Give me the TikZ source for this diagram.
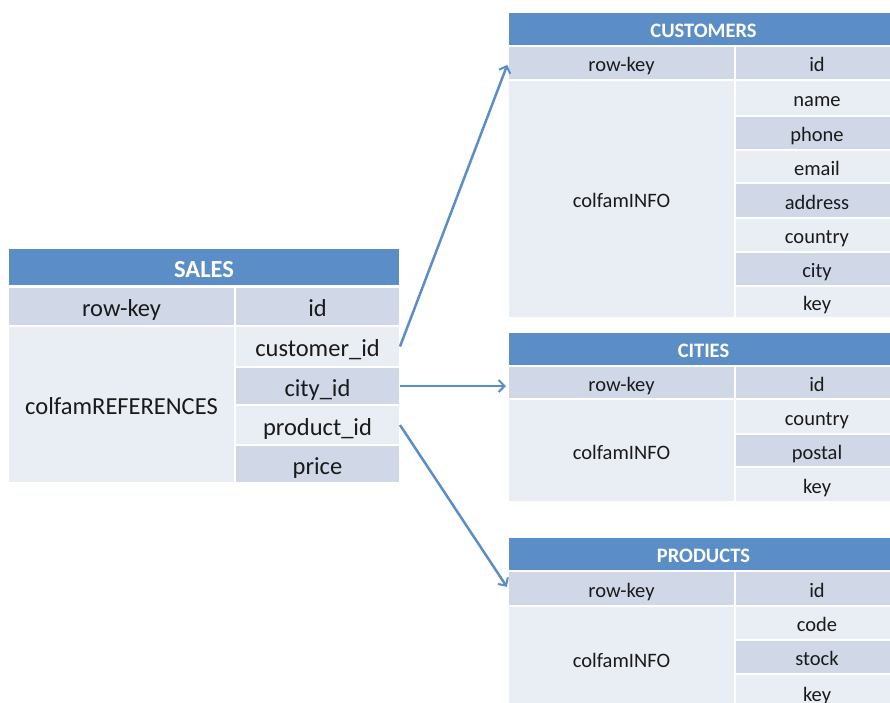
\documentclass[tikz,border=0pt]{standalone}
\usepackage{fontspec}
\setmainfont{Carlito}
\usetikzlibrary{arrows.meta}

\definecolor{hdrblue}{HTML}{5B8EC6}
\definecolor{celldark}{HTML}{D0D8E8}
\definecolor{celllight}{HTML}{E9EDF4}
\definecolor{linkblue}{HTML}{5B8EC6}
\definecolor{ink}{HTML}{1A1A1A}

\tikzset{
  cell/.style={draw=white, line width=2pt, inner sep=0pt, outer sep=0pt,
    anchor=north west, text=ink},
  wh/.style 2 args={minimum width=#1pt, minimum height=#2pt},
  big/.style={font=\fontsize{24.5}{28}\selectfont, text height=22pt, text depth=1.5pt},
  small/.style={font=\fontsize{20.5}{24}\selectfont, text height=18.5pt, text depth=1.2pt},
  hdr/.style={cell, fill=hdrblue, text=white},
  dk/.style={cell, fill=celldark},
  lt/.style={cell, fill=celllight},
  link/.style={draw=linkblue, line width=2.5pt,
    -{Straight Barb[length=6pt,width=12pt,line width=2pt]}, shorten >=2pt},
}

\begin{document}
\begin{tikzpicture}[x=1pt, y=-1pt]
\useasboundingbox (0,0) rectangle (890,702);
\clip (0,0) rectangle (890,702);

% ---------- SALES ----------
\node[hdr, big, wh={392}{38}] (sH) at (8,248) {\bfseries SALES};
\node[dk, big, wh={227}{39}] (sRK) at (8,287) {row-key};
\node[dk, big, wh={165}{39}] (sID) at (235,287) {id};
\node[lt, big, wh={227}{157}] (sCF) at (8,326) {colfamREFERENCES};
\node[lt, big, wh={165}{41}] (sCust) at (235,326) {customer\_id};
\node[dk, big, wh={165}{38}] (sCity) at (235,367) {city\_id};
\node[lt, big, wh={165}{40}] (sProd) at (235,405) {product\_id};
\node[dk, big, wh={165}{38}] (sPrice) at (235,445) {price};

% ---------- CUSTOMERS ----------
\node[hdr, small, wh={391}{34}] (cH) at (508,12) {\bfseries CUSTOMERS};
\node[dk, small, wh={227}{34}] (cRK) at (508,46) {row-key};
\node[dk, small, wh={164}{34}] (cID) at (735,46) {id};
\node[lt, small, wh={227}{238}] (cCF) at (508,80) {colfamINFO};
\node[lt, small, wh={164}{36}] (cName) at (735,80) {name};
\node[dk, small, wh={164}{34}] (cPhone) at (735,116) {phone};
\node[lt, small, wh={164}{33}] (cEmail) at (735,150) {email};
\node[dk, small, wh={164}{35}] (cAddr) at (735,183) {address};
\node[lt, small, wh={164}{34}] (cCountry) at (735,218) {country};
\node[dk, small, wh={164}{34}] (cCity) at (735,252) {city};
\node[lt, small, wh={164}{32}] (cKey) at (735,286) {key};

% ---------- CITIES ----------
\node[hdr, small, wh={391}{34}] (tH) at (508,332) {\bfseries CITIES};
\node[dk, small, wh={227}{33}] (tRK) at (508,366) {row-key};
\node[dk, small, wh={164}{33}] (tID) at (735,366) {id};
\node[lt, small, wh={227}{103}] (tCF) at (508,399) {colfamINFO};
\node[lt, small, wh={164}{35}] (tCountry) at (735,399) {country};
\node[dk, small, wh={164}{33}] (tPostal) at (735,434) {postal};
\node[lt, small, wh={164}{35}] (tKey) at (735,467) {key};

% ---------- PRODUCTS ----------
\node[hdr, small, wh={391}{34}] (pH) at (508,537) {\bfseries PRODUCTS};
\node[dk, small, wh={227}{35}] (pRK) at (508,571) {row-key};
\node[dk, small, wh={164}{35}] (pID) at (735,571) {id};
\node[lt, small, wh={227}{106}] (pCF) at (508,606) {colfamINFO};
\node[lt, small, wh={164}{34}] (pCode) at (735,606) {code};
\node[dk, small, wh={164}{34}] (pStock) at (735,640) {stock};
\node[lt, small, wh={164}{38}] (pKey) at (735,674) {key};

% ---------- references ----------
\draw[link] (sCust.east) -- (cRK.west);
\draw[link] (sCity.east) -- (sCity.east -| tRK.west);
\draw[link] (sProd.east) -- (pRK.west);
\end{tikzpicture}
\end{document}
